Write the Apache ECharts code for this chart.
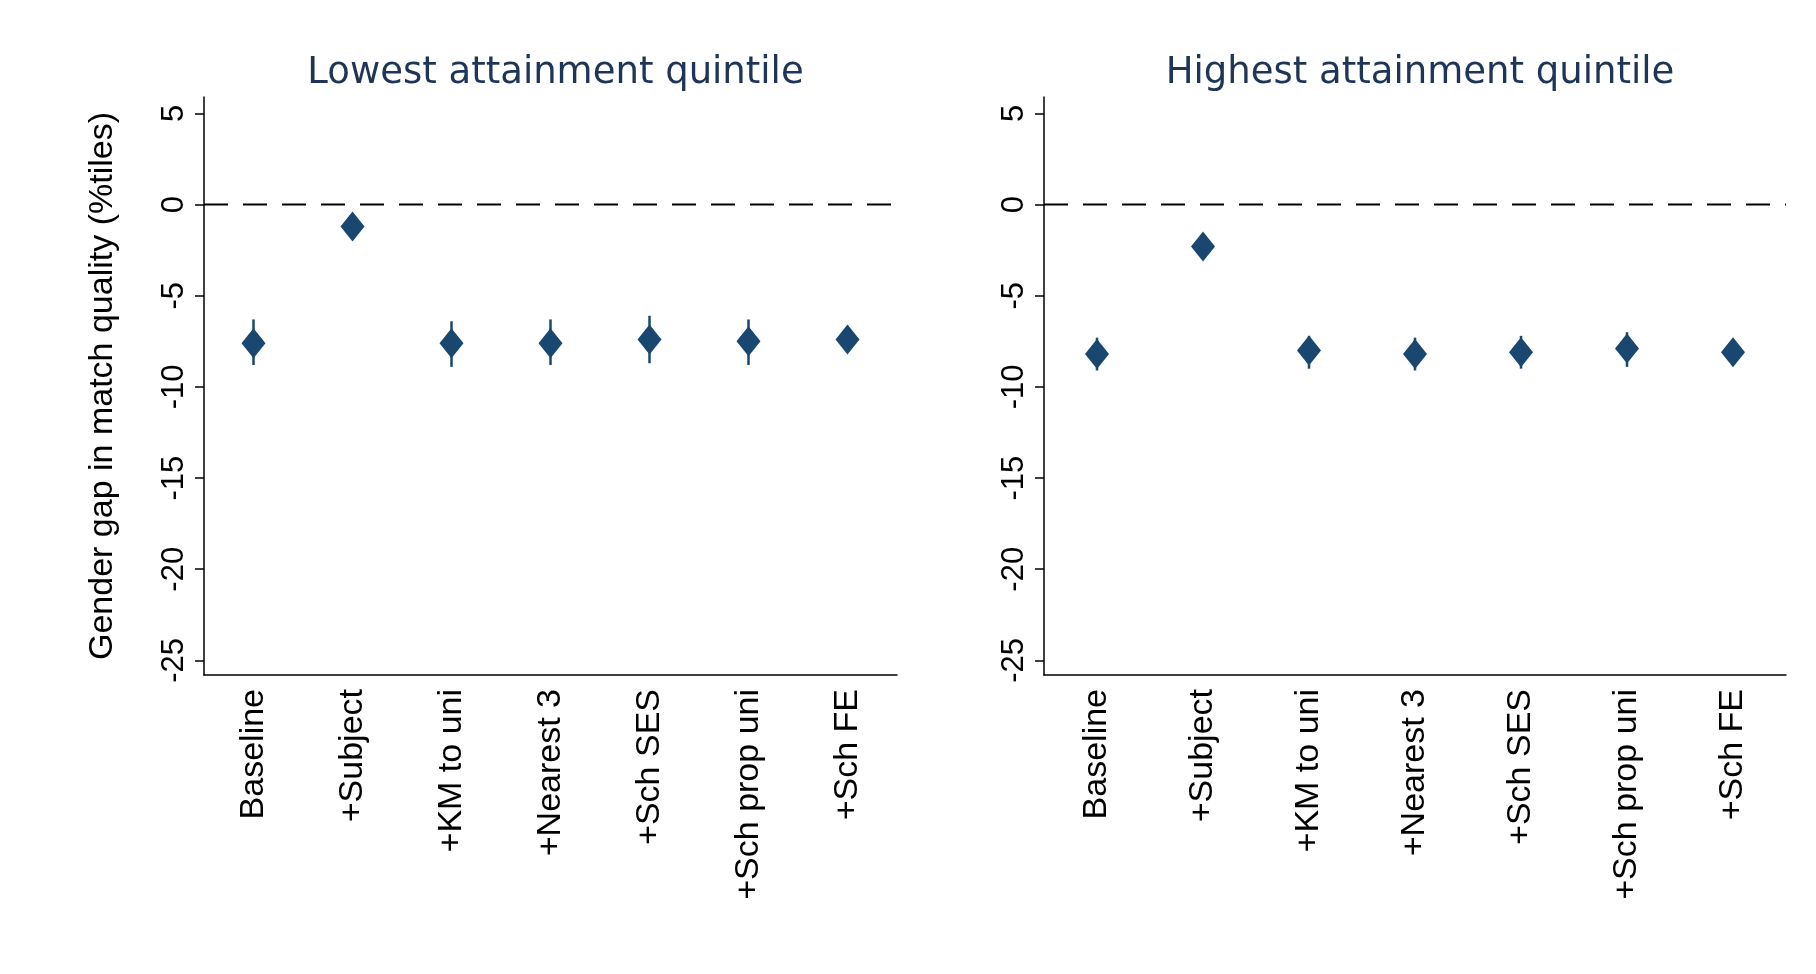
<!DOCTYPE html>
<html><head><meta charset="utf-8">
<script src="https://cdn.jsdelivr.net/npm/echarts@6/dist/echarts.min.js"></script>
<style>html,body{margin:0;background:#fff}#c{width:1816px;height:974px}</style>
</head><body><div id="c"></div>
<script>
const categories = ['Baseline','+Subject','+KM to uni','+Nearest 3','+Sch SES','+Sch prop uni','+Sch FE'];
const lowEst = [-7.6,-1.2,-7.6,-7.6,-7.4,-7.5,-7.4];
const lowLo  = [-8.8,-1.8,-8.9,-8.8,-8.7,-8.8,-8.0];
const lowHi  = [-6.3,-0.6,-6.4,-6.3,-6.1,-6.3,-6.8];
const highEst = [-8.2,-2.3,-8.0,-8.2,-8.1,-7.9,-8.1];
const highLo  = [-9.1,-2.5,-9.0,-9.1,-9.0,-8.9,-8.7];
const highHi  = [-7.3,-2.1,-7.2,-7.3,-7.2,-7.0,-7.6];
const yTicks = [-25,-20,-15,-10,-5,0,5];
const refLine = [0];
const titles = ['Lowest attainment quintile','Highest attainment quintile'];

const navy = '#1a476f';
const narrow = '"Liberation Sans Narrow","Arial Narrow","Liberation Sans",sans-serif';
const grids = [
  {left:204, width:693, top:97, height:578},
  {left:1044, width:742, top:97, height:578}
];
const xAxes = [], yAxes = [], series = [], titleArr = [];
[[lowEst,lowLo,lowHi],[highEst,highLo,highHi]].forEach((d,i)=>{
  xAxes.push({type:'category', gridIndex:i, data:categories, boundaryGap:true,
    axisLine:{onZero:false, lineStyle:{color:'#000',width:1.5}}, axisTick:{alignWithLabel:true,length:9,lineStyle:{color:'#000',width:1.5}},
    axisLabel:{rotate:90, color:'#000', fontSize:34, fontFamily:narrow, margin:14}, splitLine:{show:false}});
  yAxes.push({type:'value', gridIndex:i, min:-25.8, max:5.9,
    name: i===0 ? 'Gender gap in match quality (%tiles)' : '', nameLocation:'middle', nameGap:84, nameRotate:90,
    nameTextStyle:{color:'#000', fontSize:34, fontFamily:narrow},
    axisLine:{show:true,onZero:false,lineStyle:{color:'#000',width:1.5}},
    axisTick:{show:true,length:9,customValues:yTicks,lineStyle:{color:'#000',width:1.5}},
    axisLabel:{rotate:90, color:'#000', fontSize:31, fontFamily:'"Liberation Sans",sans-serif', margin:14, customValues:yTicks},
    splitLine:{show:false}});
  titleArr.push({text:titles[i], left: grids[i].left + grids[i].width/2, textAlign:'center', top:50,
    textStyle:{color:'#1e3557', fontSize:37, fontWeight:'normal', fontFamily:'"DejaVu Sans",sans-serif'}});
  series.push({type:'custom', xAxisIndex:i, yAxisIndex:i, data: refLine.map(v=>[0,v]),
    renderItem:(params,api)=>{
      const cs = params.coordSys;
      const y = api.coord([0, api.value(1)])[1];
      return {type:'line', shape:{x1:cs.x,y1:y,x2:cs.x+cs.width,y2:y},
        style:{stroke:'#000',lineWidth:2,lineDash:[24,15]}};
    }, silent:true, z:1});
  series.push({type:'custom', xAxisIndex:i, yAxisIndex:i,
    data: categories.map((c,k)=>[k,d[1][k],d[2][k]]),
    renderItem:(params,api)=>{
      const a = api.coord([api.value(0),api.value(1)]);
      const b = api.coord([api.value(0),api.value(2)]);
      return {type:'line', shape:{x1:a[0],y1:a[1],x2:b[0],y2:b[1]}, style:{stroke:navy,lineWidth:2.5}};
    }, silent:true, z:2});
  series.push({type:'scatter', xAxisIndex:i, yAxisIndex:i, data:d[0], symbol:'diamond', symbolSize:[24,30],
    itemStyle:{color:navy, opacity:1}, z:3, silent:true});
});
const chart = echarts.init(document.getElementById('c'));
chart.setOption({animation:false, backgroundColor:'#fff', title:titleArr, grid:grids, xAxis:xAxes, yAxis:yAxes, series});
</script></body></html>
